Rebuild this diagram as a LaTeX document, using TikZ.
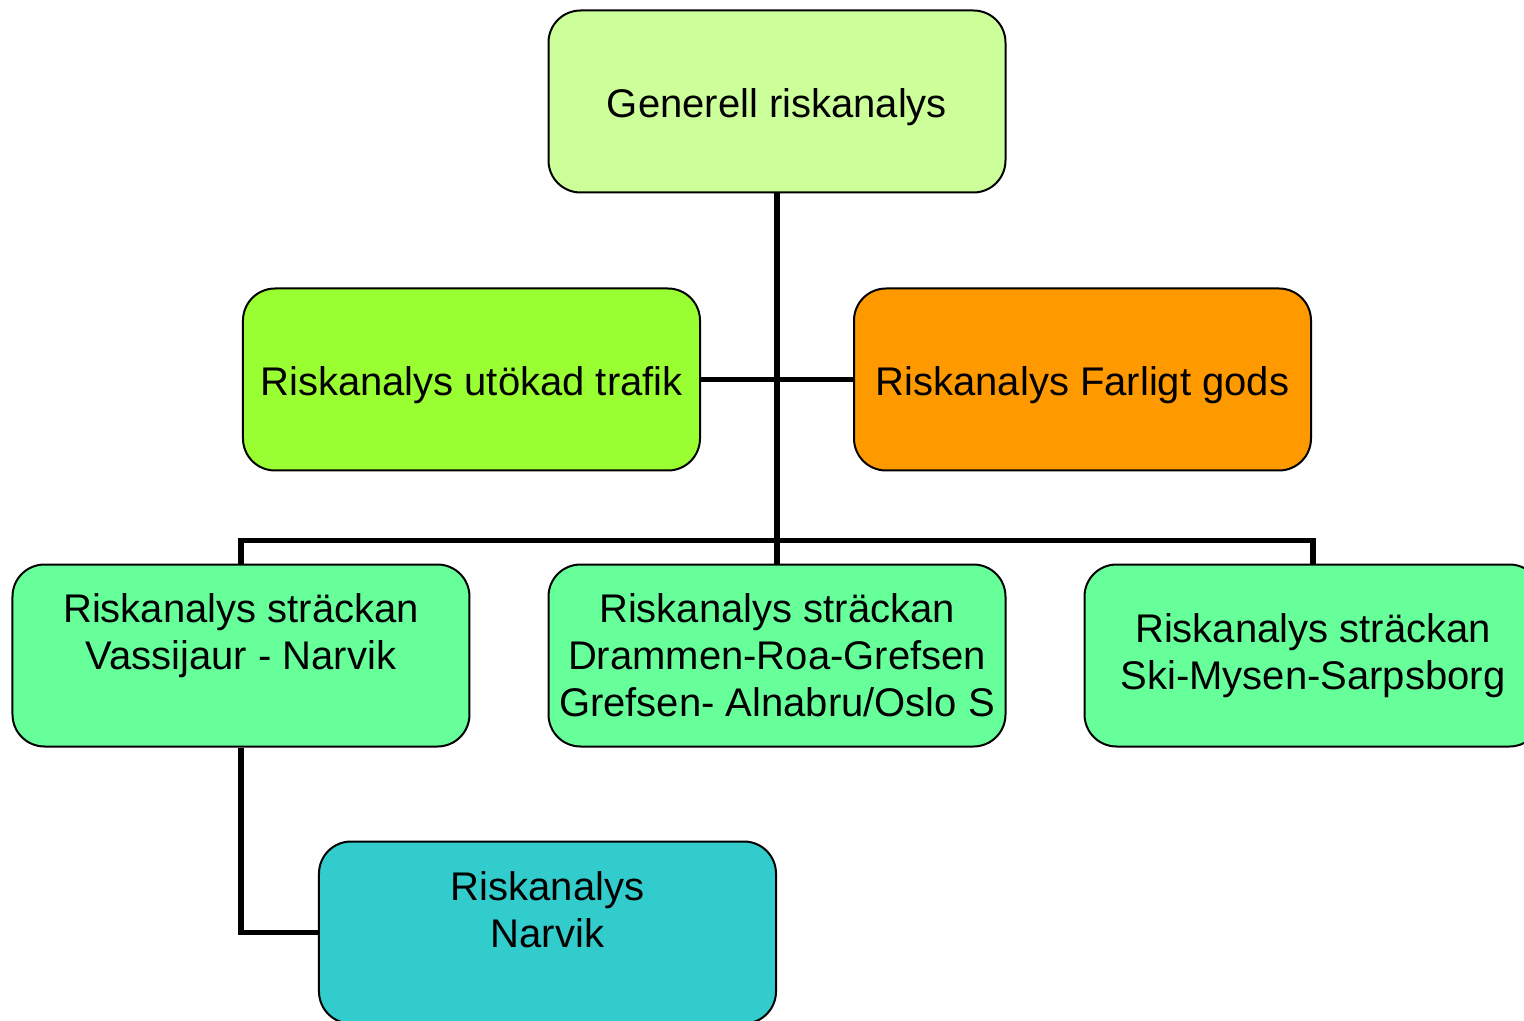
\documentclass[tikz,border=0pt]{standalone}
\usepackage{fontspec}
\setmainfont{Liberation Sans}
\usetikzlibrary{positioning}
\definecolor{genfill}{HTML}{CCFF99}
\definecolor{trafikfill}{HTML}{99FF33}
\definecolor{godsfill}{HTML}{FF9900}
\definecolor{strackfill}{HTML}{66FF99}
\definecolor{narvikfill}{HTML}{33CCCC}
\tikzstyle{riskbox} = [rectangle, rounded corners=16pt, minimum width=228.5pt, minimum height=91pt, text centered, align=center, draw=black, line width=1pt, font=\fontsize{20}{23.5}\selectfont]
\tikzstyle{oneline} = [text height=18pt, text depth=2pt]
\tikzstyle{general} = [riskbox, oneline, fill=genfill]
\tikzstyle{trafik} = [riskbox, oneline, fill=trafikfill]
\tikzstyle{gods} = [riskbox, oneline, fill=godsfill]
\tikzstyle{strack} = [riskbox, fill=strackfill]
\tikzstyle{narvik} = [riskbox, fill=narvikfill]
\tikzstyle{link} = [line width=2.8pt, draw=black]

\begin{document}
\begin{tikzpicture}

\useasboundingbox (-388.5pt,50.75pt) rectangle (373.5pt,-459.75pt);

% --- Top level ---
\node (Gen) [general] at (0,0) {Generell riskanalys};

% --- Second level ---
\node (Trafik) [trafik, below=47pt of Gen, xshift=-152.75pt] {Riskanalys utökad trafik};
\node (Gods) [gods, below=47pt of Gen, xshift=152.75pt] {Riskanalys Farligt gods};

% --- Sections ---
\node (Dram) [strack, below=185pt of Gen] {Riskanalys sträckan\\Drammen-Roa-Grefsen\\Grefsen- Alnabru/Oslo S};
\node (Vass) [strack, left=38.5pt of Dram] {Riskanalys sträckan\\ Vassijaur - Narvik\\~};
\node (Ski) [strack, right=38.5pt of Dram] {Riskanalys sträckan\\ Ski-Mysen-Sarpsborg};

% --- Narvik ---
\node (Narvik) [narvik, below=46.5pt of Vass, xshift=153.25pt] {Riskanalys\\Narvik\\~};

% --- Lines ---
\draw [link] (Gen) -- (Dram);
\draw [link] (Trafik) -- (Gods);
\draw [link] (Vass.north) -- ++(0,11.5pt) -| (Ski.north);
\draw [link] (Vass) |- (Narvik);

\end{tikzpicture}
\end{document}
